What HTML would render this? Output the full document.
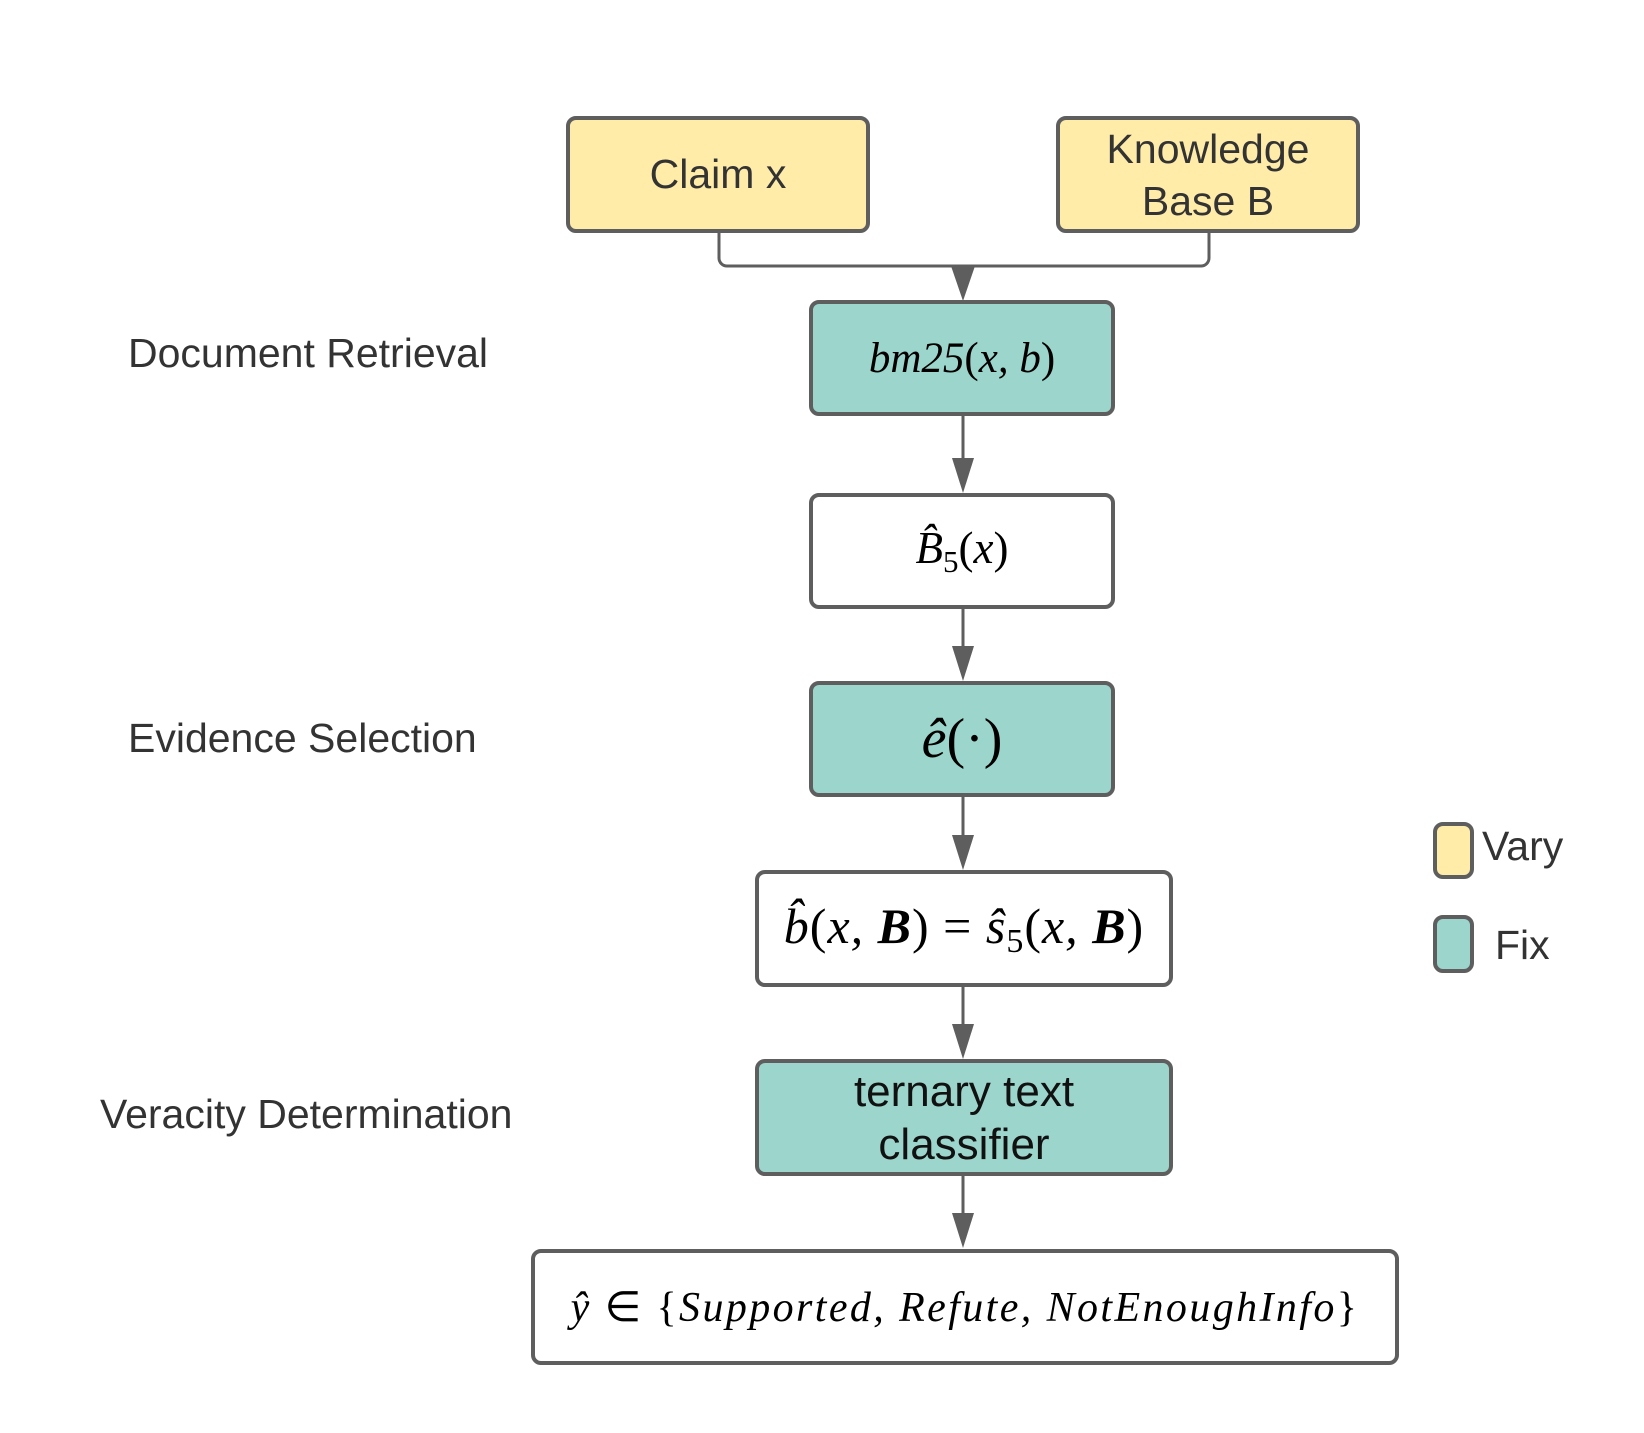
<!DOCTYPE html>
<html><head><meta charset="utf-8"><style>
body{margin:0;width:1644px;height:1433px;background:#fff;position:relative;font-family:"Liberation Sans",sans-serif;overflow:hidden}
.b{position:absolute;box-sizing:border-box;border:4.5px solid #5e5e5e;border-radius:10px;display:flex;align-items:center;justify-content:center;text-align:center;color:#333;white-space:nowrap}
.y{background:#ffeca8}.t{background:#9bd5cb}.w{background:#fff}
.m{font-family:"Liberation Serif",serif;font-style:italic;color:#000}
.l{position:absolute;font-size:41px;color:#333;line-height:1;white-space:nowrap}
</style></head><body>
<svg width="1644" height="1433" style="position:absolute;left:0;top:0">
<g stroke="#5e5e5e" stroke-width="3" fill="none">
<path d="M719 232 V258 a8 8 0 0 0 8 8 H1201 a8 8 0 0 0 8 -8 V232"/>
<path d="M963 415 V470 M963 609 V660 M963 797 V850 M963 986 V1040 M963 1175 V1228"/>
</g>
<g fill="#5e5e5e">
<path d="M951 266 L975 266 L963 301Z"/>
<path d="M952 458 L974 458 L963 493Z"/>
<path d="M952 646 L974 646 L963 681Z"/>
<path d="M952 835 L974 835 L963 870Z"/>
<path d="M952 1024 L974 1024 L963 1059Z"/>
<path d="M952 1213 L974 1213 L963 1248Z"/>
</g>
</svg>
<div class="b y" style="left:566px;top:116px;width:304px;height:117px;font-size:41px">Claim x</div>
<div class="b y" style="left:1056px;top:116px;width:304px;height:117px;font-size:41px;line-height:52px">Knowledge<br>Base B</div>
<div class="b t" style="left:809px;top:300px;width:306px;height:116px"><span class="m" style="font-size:43px">bm25<span style="font-style:normal">(</span>x, b<span style="font-style:normal">)</span></span></div>
<div class="b w" style="left:809px;top:493px;width:306px;height:116px"><span class="m" style="font-size:45px">B̂<span style="font-size:31px;font-style:normal;vertical-align:-9px">5</span><span style="font-style:normal">(</span>x<span style="font-style:normal">)</span></span></div>
<div class="b t" style="left:809px;top:681px;width:306px;height:116px"><span class="m" style="font-size:56px">ê<span style="font-style:normal">(·)</span></span></div>
<div class="b w" style="left:755px;top:870px;width:418px;height:117px"><span class="m" style="font-size:50px;letter-spacing:1px">b̂<span style="font-style:normal">(</span>x, <b>B</b><span style="font-style:normal">) = </span>ŝ<span style="font-size:34px;font-style:normal;vertical-align:-9px">5</span><span style="font-style:normal">(</span>x, <b>B</b><span style="font-style:normal">)</span></span></div>
<div class="b t" style="left:755px;top:1059px;width:418px;height:117px;font-size:44px;line-height:53px;color:#111">ternary text<br>classifier</div>
<div class="b w" style="left:531px;top:1249px;width:868px;height:116px"><span class="m" style="font-size:42px;letter-spacing:2.4px">ŷ <span style="font-style:normal">∈ {</span>Supported, Refute, NotEnoughInfo<span style="font-style:normal">}</span></span></div>
<div class="l" style="left:128px;top:333px">Document Retrieval</div>
<div class="l" style="left:128px;top:718px">Evidence Selection</div>
<div class="l" style="left:100px;top:1094px">Veracity Determination</div>
<div class="b y" style="left:1433px;top:822px;width:41px;height:57px;border-width:4px"></div>
<div class="b t" style="left:1433px;top:915px;width:41px;height:58px;border-width:4px"></div>
<div class="l" style="left:1482px;top:826px">Vary</div>
<div class="l" style="left:1495px;top:925px">Fix</div>
</body></html>
